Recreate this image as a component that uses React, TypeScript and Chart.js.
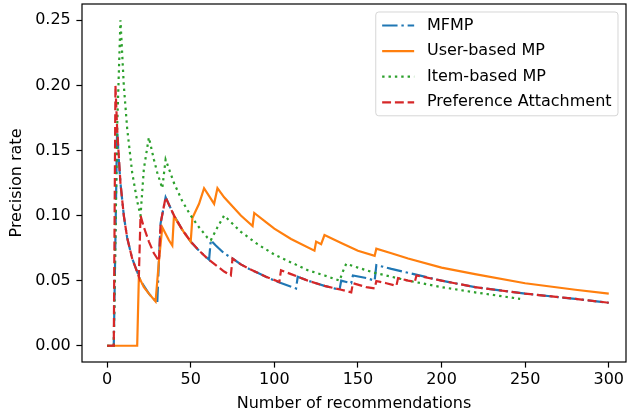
import React, { useEffect, useRef } from 'react';
import { Chart, registerables } from 'chart.js';

Chart.register(...registerables);

const xTicks = [0, 50, 100, 150, 200, 250, 300];
const yTicks = [0, 0.05, 0.1, 0.15, 0.2, 0.25];
const seriesNames = ['MFMP', 'User-based MP', 'Item-based MP', 'Preference Attachment'];

const mfmpX = [0, 4, 6, 7, 8, 10, 12, 15, 20, 25, 30, 31, 32, 35, 40, 45, 50, 55, 61, 62, 65, 70, 75, 80, 85, 90, 100, 113, 114, 120, 130, 139, 140, 146, 147, 155, 160, 161, 170, 180, 200, 220, 250, 280, 300];
const mfmpY = [0, 0, 0.167, 0.143, 0.125, 0.1, 0.083, 0.067, 0.05, 0.04, 0.033, 0.065, 0.094, 0.114, 0.1, 0.089, 0.08, 0.073, 0.066, 0.081, 0.077, 0.071, 0.067, 0.0625, 0.059, 0.056, 0.05, 0.044, 0.053, 0.05, 0.046, 0.043, 0.05, 0.048, 0.054, 0.052, 0.05, 0.062, 0.059, 0.056, 0.05, 0.045, 0.04, 0.036, 0.033];

const userX = [0, 18, 19, 22, 25, 29, 31, 33, 37, 39, 40, 42, 46, 50, 51, 55, 58, 62, 64, 66, 70, 80, 87, 88, 95, 100, 110, 124, 125, 128, 130, 140, 150, 160, 161, 170, 180, 200, 220, 250, 280, 300];
const userY = [0, 0, 0.053, 0.045, 0.04, 0.034, 0.065, 0.091, 0.081, 0.077, 0.1, 0.095, 0.087, 0.08, 0.098, 0.109, 0.121, 0.113, 0.109, 0.121, 0.114, 0.1, 0.092, 0.102, 0.095, 0.09, 0.082, 0.073, 0.08, 0.078, 0.085, 0.079, 0.073, 0.069, 0.0745, 0.071, 0.067, 0.06, 0.055, 0.048, 0.043, 0.04];

const itemX = [0, 4, 6, 8, 10, 12, 15, 18, 20, 22, 25, 28, 30, 33, 35, 40, 45, 50, 55, 60, 62, 66, 70, 80, 90, 100, 110, 120, 130, 139, 141, 143, 150, 160, 180, 200, 220, 247];
const itemY = [0, 0, 0.167, 0.25, 0.2, 0.167, 0.133, 0.111, 0.1, 0.136, 0.16, 0.143, 0.133, 0.121, 0.143, 0.125, 0.111, 0.1, 0.091, 0.083, 0.081, 0.091, 0.1, 0.0875, 0.078, 0.07, 0.064, 0.058, 0.054, 0.05, 0.057, 0.063, 0.06, 0.056, 0.05, 0.045, 0.041, 0.036];

const prefX = [0, 4, 5, 6, 8, 10, 12, 15, 19, 20, 22, 25, 28, 31, 32, 35, 40, 45, 50, 55, 60, 65, 70, 74, 75, 80, 85, 90, 95, 103, 104, 110, 120, 130, 140, 146, 147, 155, 160, 161, 167, 173, 174, 180, 184, 185, 200, 220, 250, 280, 300];
const prefY = [0, 0, 0.2, 0.167, 0.125, 0.1, 0.083, 0.067, 0.053, 0.1, 0.091, 0.08, 0.071, 0.065, 0.094, 0.114, 0.1, 0.089, 0.08, 0.073, 0.067, 0.062, 0.057, 0.054, 0.067, 0.0625, 0.059, 0.056, 0.053, 0.049, 0.058, 0.055, 0.05, 0.046, 0.043, 0.041, 0.048, 0.045, 0.044, 0.0497, 0.048, 0.046, 0.052, 0.05, 0.049, 0.054, 0.05, 0.045, 0.04, 0.036, 0.033];

const FONT = '"DejaVu Sans", sans-serif';
const FS = 16;

export default function App() {
  const ref = useRef<HTMLCanvasElement>(null);

  useEffect(() => {
    const styles = [
      { color: '#1f77b4', dash: [15.4, 3.84, 2.4, 3.84] },
      { color: '#ff7f0e', dash: [] as number[] },
      { color: '#2ca02c', dash: [2.4, 3.96] },
      { color: '#d62728', dash: [8.9, 3.84] },
    ];
    const xs = [mfmpX, userX, itemX, prefX];
    const ys = [mfmpY, userY, itemY, prefY];
    const datasets = seriesNames.map((name, i) => ({
      label: name,
      data: xs[i].map((x, j) => ({ x, y: ys[i][j] })),
      borderColor: styles[i].color,
      backgroundColor: styles[i].color,
      borderDash: styles[i].dash,
      borderWidth: 2.2,
      pointRadius: 0,
      pointHoverRadius: 0,
      fill: false,
      tension: 0,
      order: seriesNames.length - i,
    }));

    const framePlugin = {
      id: 'frame',
      afterDraw(chart: any) {
        const { ctx, chartArea: a } = chart;
        ctx.save();
        ctx.strokeStyle = '#000';
        ctx.lineWidth = 1.2;
        ctx.strokeRect(a.left, a.top, a.right - a.left, a.bottom - a.top);
        ctx.restore();
      },
    };

    const legendPlugin = {
      id: 'mplLegend',
      afterDraw(chart: any) {
        const { ctx, chartArea: a } = chart;
        ctx.save();
        ctx.font = `${FS}px ${FONT}`;
        const labels = chart.data.datasets.map((d: any) => d.label as string);
        const maxW = Math.max(...labels.map((t: string) => ctx.measureText(t).width));
        const pad = 6.4;
        const handle = 32;
        const gap = 12.8;
        const rowH = 25.6;
        const boxW = pad * 2 + handle + gap + maxW;
        const boxH = 13.5 * 2 + rowH * (labels.length - 1);
        const right = a.right - 8;
        const top = a.top + 8;
        const left = right - boxW;
        const r = 3;
        ctx.beginPath();
        ctx.moveTo(left + r, top);
        ctx.lineTo(left + boxW - r, top);
        ctx.quadraticCurveTo(left + boxW, top, left + boxW, top + r);
        ctx.lineTo(left + boxW, top + boxH - r);
        ctx.quadraticCurveTo(left + boxW, top + boxH, left + boxW - r, top + boxH);
        ctx.lineTo(left + r, top + boxH);
        ctx.quadraticCurveTo(left, top + boxH, left, top + boxH - r);
        ctx.lineTo(left, top + r);
        ctx.quadraticCurveTo(left, top, left + r, top);
        ctx.closePath();
        ctx.fillStyle = 'rgba(255,255,255,0.8)';
        ctx.fill();
        ctx.strokeStyle = 'rgba(204,204,204,0.8)';
        ctx.lineWidth = 1;
        ctx.stroke();
        chart.data.datasets.forEach((d: any, i: number) => {
          const cy = top + 13.5 + i * rowH;
          ctx.beginPath();
          ctx.setLineDash(d.borderDash || []);
          ctx.strokeStyle = d.borderColor;
          ctx.lineWidth = d.borderWidth;
          ctx.moveTo(left + pad, cy);
          ctx.lineTo(left + pad + handle, cy);
          ctx.stroke();
          ctx.setLineDash([]);
          ctx.fillStyle = '#000';
          ctx.textBaseline = 'middle';
          ctx.textAlign = 'left';
          ctx.fillText(d.label, left + pad + handle + gap, cy);
        });
        ctx.restore();
      },
    };

    const zeroPad = (s: any) => {
      s.paddingTop = 0;
      s.paddingBottom = 0;
      s.paddingLeft = 0;
      s.paddingRight = 0;
    };

    const chart = new Chart(ref.current as HTMLCanvasElement, {
      type: 'line',
      data: { datasets: datasets as any },
      options: {
        animation: false,
        responsive: false,
        devicePixelRatio: 1,
        layout: { padding: { top: 4, right: 2, left: 0, bottom: 0 } },
        plugins: { legend: { display: false }, tooltip: { enabled: false } },
        events: [],
        scales: {
          x: {
            type: 'linear',
            min: -15,
            max: 310.3,
            afterFit: (s: any) => { s.height = 56; zeroPad(s); },
            afterBuildTicks: (s: any) => { s.ticks = xTicks.map((v) => ({ value: v })); },
            grid: { display: true, drawOnChartArea: false, drawTicks: true, tickLength: 5.6, tickWidth: 1.2, tickColor: '#000' },
            border: { display: false },
            ticks: {
              autoSkip: false,
              maxRotation: 0,
              padding: 2.8,
              color: '#000',
              font: { family: FONT, size: FS },
              callback: (v: any) => String(v),
            },
            title: {
              display: true,
              text: 'Number of recommendations',
              color: '#000',
              font: { family: FONT, size: FS },
              padding: { top: 0, bottom: 4.4 },
            },
          },
          y: {
            type: 'linear',
            min: -0.0125,
            max: 0.2625,
            afterFit: (s: any) => { s.width = 82; zeroPad(s); },
            afterBuildTicks: (s: any) => { s.ticks = yTicks.map((v) => ({ value: v })); },
            grid: { display: true, drawOnChartArea: false, drawTicks: true, tickLength: 5.6, tickWidth: 1.2, tickColor: '#000' },
            border: { display: false },
            ticks: {
              padding: 5.6,
              color: '#000',
              font: { family: FONT, size: FS },
              callback: (v: any) => Number(v).toFixed(2),
            },
            title: {
              display: true,
              text: 'Precision rate',
              color: '#000',
              font: { family: FONT, size: FS },
              padding: { top: 7.4, bottom: 0 },
            },
          },
        },
      },
      plugins: [framePlugin, legendPlugin],
    });
    return () => chart.destroy();
  }, []);

  return (
    <div style={{ position: 'fixed', left: 0, top: 0, width: 628, height: 418, background: '#fff' }}>
      <canvas ref={ref} width={628} height={418} style={{ width: 628, height: 418, display: 'block' }} />
    </div>
  );
}
